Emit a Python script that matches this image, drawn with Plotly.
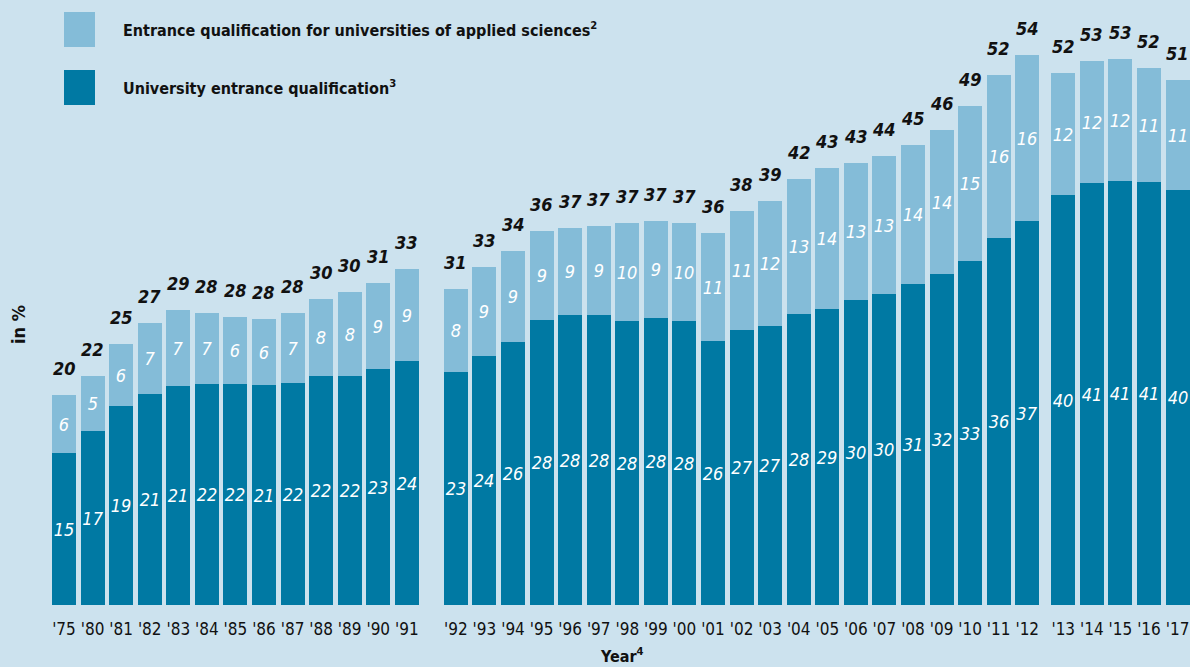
import plotly.graph_objects as go

# ---------------- data ----------------
years = ["'75", "'80", "'81", "'82", "'83", "'84", "'85", "'86", "'87", "'88", "'89", "'90", "'91",
         "'92", "'93", "'94", "'95", "'96", "'97", "'98", "'99", "'00", "'01", "'02", "'03", "'04",
         "'05", "'06", "'07", "'08", "'09", "'10", "'11", "'12",
         "'13", "'14", "'15", "'16", "'17"]
# group of each year (the chart leaves gaps between groups)
year_group = [0] * 13 + [1] * 21 + [2] * 5

# bar segment heights (in %)
university = [14.9, 17.1, 19.5, 20.7, 21.5, 21.7, 21.7, 21.6, 21.8, 22.5, 22.5, 23.1, 23.9,
              22.8, 24.4, 25.8, 27.9, 28.4, 28.4, 27.8, 28.1, 27.8, 25.9, 27.0, 27.4, 28.5,
              29.0, 29.9, 30.5, 31.5, 32.5, 33.7, 36.0, 37.6,
              40.2, 41.4, 41.6, 41.5, 40.7]
applied = [5.7, 5.4, 6.1, 6.9, 7.4, 6.9, 6.5, 6.4, 6.8, 7.5, 8.2, 8.5, 9.0,
           8.2, 8.7, 8.9, 8.8, 8.6, 8.8, 9.7, 9.5, 9.7, 10.6, 11.6, 12.2, 13.3,
           13.8, 13.4, 13.5, 13.6, 14.1, 15.2, 16.0, 16.3,
           12.0, 11.9, 11.9, 11.1, 10.8]

# printed labels
university_labels = [15, 17, 19, 21, 21, 22, 22, 21, 22, 22, 22, 23, 24,
                     23, 24, 26, 28, 28, 28, 28, 28, 28, 26, 27, 27, 28,
                     29, 30, 30, 31, 32, 33, 36, 37,
                     40, 41, 41, 41, 40]
applied_labels = [6, 5, 6, 7, 7, 7, 6, 6, 7, 8, 8, 9, 9,
                  8, 9, 9, 9, 9, 9, 10, 9, 10, 11, 11, 12, 13,
                  14, 13, 13, 14, 14, 15, 16, 16,
                  12, 12, 12, 11, 11]
total_labels = [20, 22, 25, 27, 29, 28, 28, 28, 28, 30, 30, 31, 33,
                31, 33, 34, 36, 37, 37, 37, 37, 37, 36, 38, 39, 42,
                43, 43, 44, 45, 46, 49, 52, 54,
                52, 53, 53, 52, 51]

legend_labels = ["Entrance qualification for universities of applied sciences<sup>2</sup>",
                 "University entrance qualification<sup>3</sup>"]

# ---------------- style ----------------
BG = "#CCE2EE"
DARK = "#0079A3"
LIGHT = "#84BCD8"
FONT = "Liberation Sans Narrow, DejaVu Sans Condensed, Open Sans, sans-serif"

group_extra = [0.0, 0.716, 0.976]
xpos = [i + group_extra[g] for i, g in enumerate(year_group)]
totals = [u + a for u, a in zip(university, applied)]

fig = go.Figure()
fig.add_trace(go.Bar(
    x=xpos, y=university, width=0.84, marker=dict(color=DARK, line=dict(width=0)),
    text=[str(v) for v in university_labels], textposition="inside",
    insidetextanchor="middle", textangle=0, constraintext="none",
    textfont=dict(family=FONT, size=18, color="white", style="italic"),
    name="University entrance qualification", showlegend=False, hoverinfo="skip"))
fig.add_trace(go.Bar(
    x=xpos, y=applied, width=0.84, marker=dict(color=LIGHT, line=dict(width=0)),
    text=[str(v) for v in applied_labels], textposition="inside",
    insidetextanchor="middle", textangle=0, constraintext="none",
    textfont=dict(family=FONT, size=18, color="white", style="italic"),
    name="Entrance qualification for universities of applied sciences", showlegend=False,
    hoverinfo="skip"))

annotations = []
for x, t, lab in zip(xpos, totals, total_labels):
    annotations.append(dict(x=x, y=t, xref="x", yref="y", text=f"<b><i>{lab}</i></b>",
                            showarrow=False, yanchor="bottom", yshift=14,
                            font=dict(family=FONT, size=18, color="#111111")))

PH = 605.0
W = 1190.0
def py(px):
    return (PH - px) / PH

# legend
legend_rows = [(12, 47, LIGHT, legend_labels[0]), (70, 105, DARK, legend_labels[1])]
shapes = []
for top, bot, col, lab in legend_rows:
    shapes.append(dict(type="rect", xref="paper", yref="paper", x0=64 / W, x1=95 / W,
                       y0=py(bot), y1=py(top), fillcolor=col, line=dict(width=0)))
    annotations.append(dict(x=121 / W, y=py((top + bot) / 2), xref="paper", yref="paper",
                            text=f"<b>{lab}</b>", showarrow=False, xanchor="left",
                            yanchor="middle",
                            font=dict(family=FONT, size=16, color="#111111")))

annotations.append(dict(x=18 / W, y=py(325), xref="paper", yref="paper", text="<b>in %</b>",
                        textangle=-90, showarrow=False, xanchor="center", yanchor="middle",
                        font=dict(family=FONT, size=18, color="#111111")))
annotations.append(dict(x=622 / W, y=py(655), xref="paper", yref="paper",
                        text="<b>Year<sup>4</sup></b>", showarrow=False,
                        xanchor="center", yanchor="middle",
                        font=dict(family=FONT, size=16, color="#111111")))

fig.update_layout(
    barmode="stack", bargap=0,
    width=1190, height=667,
    margin=dict(l=0, r=0, t=0, b=62, pad=0),
    paper_bgcolor=BG, plot_bgcolor=BG,
    xaxis=dict(range=[-64 / 28.57, (1190 - 64) / 28.57], tickmode="array", tickvals=xpos,
               ticktext=years, showgrid=False, zeroline=False, showline=False, ticks="",
               ticklabelstandoff=12,
               tickfont=dict(family=FONT, size=17, color="#111111")),
    yaxis=dict(range=[0, PH / 10.2], visible=False, showgrid=False, zeroline=False),
    annotations=annotations, shapes=shapes,
    uniformtext=dict(mode=False),
)

fig.write_html("out.html", config={"displayModeBar": False},
               post_script="document.body.style.margin='0';document.body.style.padding='0';"
                           "document.body.style.background='" + BG + "';")
